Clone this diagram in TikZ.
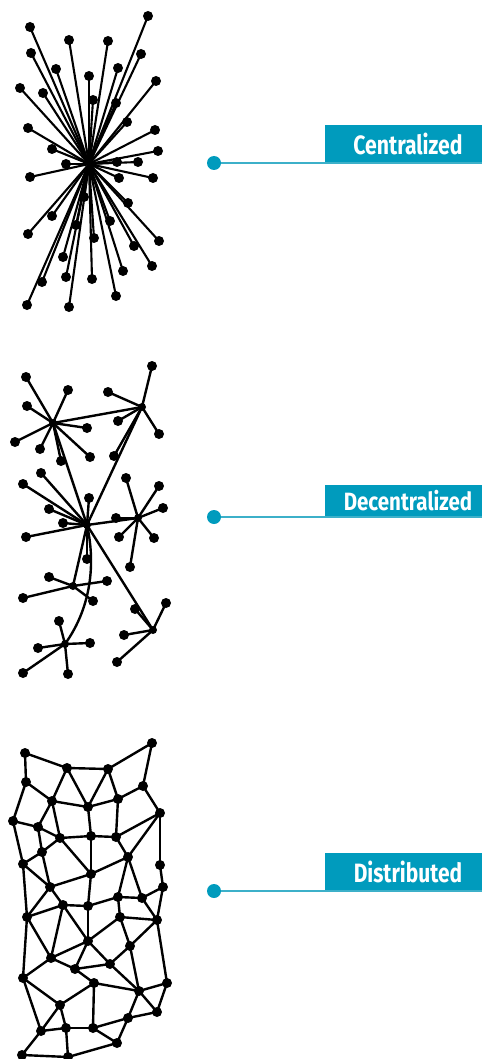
\documentclass[tikz,border=0pt]{standalone}
\usepackage{fontspec}
\newfontfamily\tagfont{Fira Sans}
\usepackage{graphicx}
\definecolor{teal}{RGB}{0,155,189}
\definecolor{tealline}{RGB}{60,176,201}
\tikzset{
  edge/.style={line width=2.4pt, black, line cap=round},
  spoke/.style={line width=2.1pt, black, line cap=round},
  dot/.style={circle, fill=black, inner sep=0pt, minimum size=10pt},
  tagbox/.style={fill=teal, inner sep=0pt},
  tagtext/.style={text=white, inner sep=0pt, font=\tagfont\bfseries},
  pin/.style={circle, fill=teal, inner sep=0pt, minimum size=14pt},
  leader/.style={line width=1.6pt, tealline}
}
% condensed label word: size, horizontal scale, text
\newcommand{\tagword}[3]{\scalebox{#2}[1]{\fontsize{#1}{#1}\selectfont #3}}
\begin{document}
\begin{tikzpicture}[x=1pt,y=-1pt]
\useasboundingbox (0,0) rectangle (482,1059);

% ---------- centralized star ----------
\coordinate (hub) at (89,164);
\foreach \n/\x/\y in {1/148/16,2/30/27,3/69/40,4/108/41,5/31/53,6/141/54,7/56/69,8/118/68,
  9/89/76,10/156/81,11/20/88,12/43/93,13/93/100,14/116/103,15/127/122,16/28/128,17/155/130,
  18/52/149,19/158/151,20/66/164,21/138/162,22/30/177,23/119/178,24/153/178,25/84/197,
  26/128/203,27/52/216,28/110/221,29/76/225,30/28/234,31/94/238,32/159/241,33/134/246,
  34/63/257,35/152/266,36/123/271,37/66/277,38/42/282,39/92/279,40/116/296,41/27/305,
  42/69/307,43/117/162}
  \coordinate (c\n) at (\x,\y);
\foreach \n in {1,...,43} \draw[spoke] (hub) -- (c\n);
\foreach \n in {1,...,43} \node[dot] at (c\n) {};

% ---------- decentralized clusters ----------
\coordinate (hA) at (53,423);
\coordinate (hB) at (142,407);
\coordinate (hC) at (87,525);
\coordinate (hD) at (138,518);
\coordinate (hE) at (73,586);
\coordinate (hF) at (65,644);
\coordinate (hG) at (153,630);
\foreach \h/\n/\x/\y in {A/1/26/377,A/2/68/390,A/3/27/406,A/4/87/428,A/5/15/442,A/6/40/449,A/7/90/457,A/8/61/461,
  B/1/152/366,B/2/108/392,B/3/118/421,B/4/159/434,B/5/114/456,
  C/1/41/473,C/2/23/484,C/3/89/498,C/4/49/509,C/5/63/523,C/6/26/537,C/7/87/559,
  D/1/126/478,D/2/159/486,D/3/163/508,D/4/116/518,D/5/119/537,D/6/154/538,D/7/130/567,
  E/1/49/577,E/2/107/581,E/3/23/598,E/4/93/601,
  F/1/59/621,F/2/38/648,F/3/90/643,F/4/23/673,F/5/68/674,
  G/1/135/609,G/2/166/603,G/3/124/635,G/4/117/662}
  {\coordinate (l\h\n) at (\x,\y);
   \draw[edge] (h\h) -- (l\h\n);}
\draw[edge] (hA) -- (hB);
\draw[edge] (hA) -- (hC);
\draw[edge] (hB) -- (hC);
\draw[edge] (hC) -- (hD);
\draw[edge] (hC) -- (hE);
\draw[edge] (hC) -- (hG);
\draw[edge] (hC) .. controls (97,570) and (88,612) .. (hF);
\foreach \h/\n in {A/1,A/2,A/3,A/4,A/5,A/6,A/7,A/8,B/1,B/2,B/3,B/4,B/5,
  C/1,C/2,C/3,C/4,C/5,C/6,C/7,D/1,D/2,D/3,D/4,D/5,D/6,D/7,
  E/1,E/2,E/3,E/4,F/1,F/2,F/3,F/4,F/5,G/1,G/2,G/3,G/4}
  \node[dot] at (l\h\n) {};
\foreach \h in {A,B,C,D,E,F,G} \node[dot, minimum size=8pt] at (h\h) {};

% ---------- distributed mesh ----------
\foreach \n/\x/\y in {1/25/753,2/152/743,3/67/768,4/108/769,5/26/782,6/143/786,7/52/801,
  8/88/807,9/118/799,10/13/821,11/160/813,12/38/827,13/60/838,14/91/836,15/116/837,
  16/42/852,17/128/857,18/23/864,19/160/865,20/91/874,21/50/887,22/163/887,23/118/897,
  24/142/898,25/63/905,26/88/906,27/27/917,28/120/917,29/157/920,30/88/941,31/130/946,
  32/51/958,33/110/964,34/75/969,35/23/978,36/94/983,37/167/983,38/139/991,39/60/1005,
  40/157/1012,41/128/1018,42/41/1031,43/66/1028,44/93/1028,45/117/1043,46/22/1055,47/68/1057}
  \coordinate (m\n) at (\x,\y);
\foreach \a/\b in {1/3,1/5,3/4,4/2,2/6,3/7,3/8,4/8,4/9,5/7,5/10,6/9,6/11,7/8,8/9,7/12,7/13,
  10/12,10/18,12/13,12/16,8/14,13/14,14/15,9/15,11/15,11/17,11/19,13/16,16/18,13/20,14/20,
  15/17,17/20,16/21,18/21,20/21,19/22,17/23,17/24,18/27,20/26,21/25,21/27,25/26,26/23,
  23/24,24/22,23/28,24/29,28/29,22/29,25/27,25/32,25/30,26/30,28/30,28/31,29/31,29/37,
  30/32,30/34,30/33,32/34,34/33,34/36,31/33,31/38,33/38,36/38,37/38,38/40,37/40,32/35,
  27/32,27/35,35/39,36/39,36/44,39/42,39/43,35/42,42/43,43/44,44/41,40/41,38/41,44/45,
  41/45,42/46,43/47,46/47,47/45}
  \draw[edge] (m\a) -- (m\b);
\foreach \n in {1,...,47} \node[dot] at (m\n) {};

% ---------- labels ----------
\node[tagbox, minimum width=157pt, minimum height=38pt, anchor=north east] (tc) at (482,125) {};
\node[tagtext] (tct) at (408,144) {\tagword{26.5}{0.80}{Centralized}};
\node[pin] (pc) at (214,163) {};
\coordinate (ec) at (482,163);
\draw[leader] (pc) -- (ec);

\node[tagbox, minimum width=157pt, minimum height=32pt, anchor=north east] (td) at (482,485) {};
\node[tagtext] (tdt) at (408,501) {\tagword{25}{0.82}{Decentralized}};
\node[pin] (pd) at (214,517) {};
\coordinate (ed) at (482,517);
\draw[leader] (pd) -- (ed);

\node[tagbox, minimum width=157pt, minimum height=38pt, anchor=north east] (tb) at (482,853) {};
\node[tagtext] (tbt) at (408,872) {\tagword{26.5}{0.79}{Distributed}};
\node[pin] (pb) at (214,891) {};
\coordinate (eb) at (482,891);
\draw[leader] (pb) -- (eb);
\end{tikzpicture}
\end{document}
